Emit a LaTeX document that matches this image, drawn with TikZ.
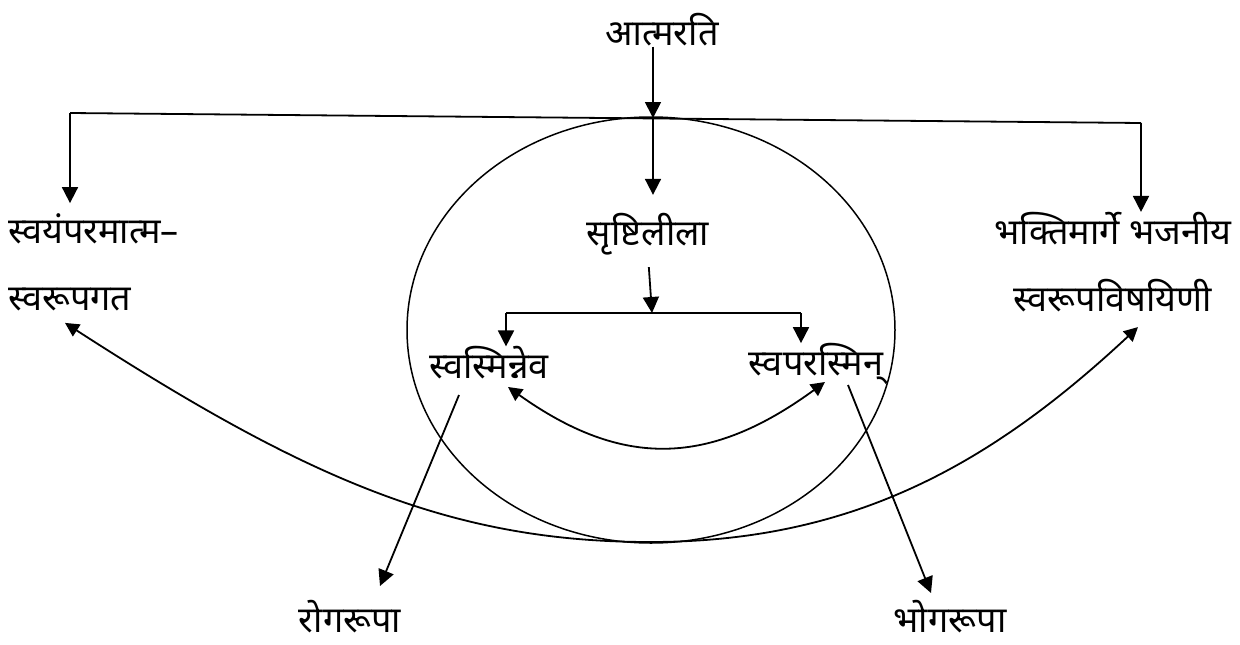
\documentclass[tikz,border=0pt]{standalone}
\usepackage{fontspec}
\newfontfamily\devfont[Script=Devanagari]{Noto Sans}
\usetikzlibrary{positioning,arrows.meta,calc}

\begin{document}
\begin{tikzpicture}[x=1pt,y=-1pt,
    lbl/.style={font=\devfont\fontsize{36}{67}\selectfont, inner sep=0pt},
    line/.style={line width=1.8pt},
    link/.style={line width=1.8pt, -{Triangle[length=16pt,width=16pt]}},
    twoway/.style={line width=1.8pt, {Triangle[length=14pt,width=14pt]}-{Triangle[length=14pt,width=14pt]}}
]
    \useasboundingbox (0,0) rectangle (1240,645);

    % labels
    \node[lbl] (atma) at (662,30) {आत्मरति};
    \node[lbl] (srishti) at (648,234) {सृष्टिलीला};
    \node[lbl, anchor=west, align=left] (svayam) at (8,262) {स्वयंपरमात्म–\\स्वरूपगत};
    \node[lbl, align=center] (bhakti) at (1113,262) {भक्तिमार्गे भजनीय\\स्वरूपविषयिणी};
    \node[lbl] (svasmin) at (489,363) {स्वस्मिन्नेव};
    \node[lbl] (svapara) at (816,364) {स्वपरस्मिन्};
    \node[lbl] (roga) at (350,617) {रोगरूपा};
    \node[lbl] (bhoga) at (950,617) {भोगरूपा};

    % joints
    \coordinate (junction) at (653,118);
    \coordinate (leftcorner) at (70,113);
    \coordinate (rightcorner) at (1141,123);
    \coordinate (fork) at (652,313);
    \coordinate (forkL) at (506,313);
    \coordinate (forkR) at (801,313);
    \coordinate (bend) at (650,542);

    % the circle
    \draw[line width=1.5pt] (651,330) ellipse [x radius=244, y radius=213];

    \draw[link] (atma.south -| junction) -- (junction);
    \draw[line] (leftcorner) -- (rightcorner);
    \draw[link, shorten >=10pt] (leftcorner) -- (leftcorner |- svayam.north);
    \draw[link] (rightcorner) -- (rightcorner |- bhakti.north);
    \draw[link, shorten >=18pt] (junction) -- (junction |- srishti.north);
    \draw[link, shorten <=12pt] (srishti.south) -- (fork);
    \draw[line] (forkL) -- (forkR);
    \draw[link] (forkL) -- (forkL |- svasmin.north);
    \draw[link] (forkR) -- (forkR |- svapara.north);

    \draw[twoway] ($(svasmin)+(19,24)$) .. controls +(115,82) and +(-115,84) .. ($(svapara)+(9,18)$);
    \draw[link] ($(svasmin)+(-30,32)$) -- ($(roga)+(30,-31)$);
    \draw[link] ($(svapara)+(32,21)$) -- ($(bhoga)+(-19,-24)$);

    \draw[twoway] ($(svayam.south west)+(57,12)$) .. controls +(240,155) and +(-200,0) .. (bend)
        .. controls +(200,0) and +(-150,140) .. ($(bhakti.south)+(25,15)$);
\end{tikzpicture}
\end{document}
